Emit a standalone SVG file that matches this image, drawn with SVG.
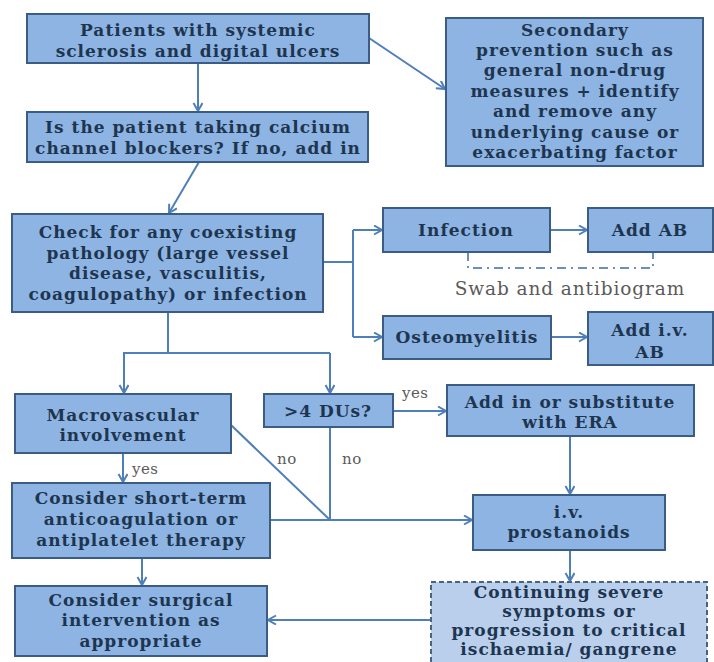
<svg xmlns="http://www.w3.org/2000/svg" width="714" height="662" viewBox="0 0 714 662">
<defs>
<style>
.box{fill:#8DB4E2;stroke:#3A5C85;stroke-width:2}
.dbox{fill:#B9CFEC;stroke:#4A6283;stroke-width:2;stroke-dasharray:5,3}
.t{font-family:"DejaVu Serif","Liberation Serif",serif;font-weight:bold;font-size:17px;letter-spacing:1px;fill:#1E3550;text-anchor:middle}
.lbl{font-family:"DejaVu Serif","Liberation Serif",serif;font-size:15px;letter-spacing:0.5px;fill:#5A5A5A}
.swab{font-family:"DejaVu Serif","Liberation Serif",serif;font-size:18.5px;letter-spacing:0.9px;fill:#5A5A5A;text-anchor:middle}
.c{fill:none;stroke:#4F7FB8;stroke-width:2}
.a{marker-end:url(#ah)}
</style>
<marker id="ah" markerWidth="12" markerHeight="12" refX="9" refY="5" orient="auto" markerUnits="userSpaceOnUse">
<path d="M1,0.5 L9,5 L1,9.5" fill="none" stroke="#4F7FB8" stroke-width="2"/>
</marker>
</defs>
<rect width="714" height="662" fill="#FFFFFF"/>
<g id="connectors">
<line class="c a" x1="198" y1="63" x2="198" y2="111"/>
<line class="c a" x1="369" y1="38" x2="445" y2="89"/>
<line class="c a" x1="199" y1="162" x2="169" y2="213"/>
<polyline class="c" points="323,262 353,262"/>
<line class="c" x1="353" y1="230" x2="353" y2="337"/>
<line class="c a" x1="353" y1="230" x2="382" y2="230"/>
<line class="c a" x1="353" y1="337" x2="382" y2="337"/>
<line class="c a" x1="550" y1="230" x2="587" y2="230"/>
<line class="c a" x1="551" y1="337" x2="587" y2="337"/>
<polyline fill="none" stroke="#6E8FBD" stroke-width="2" stroke-dasharray="9,5,2,5" points="468,252 468,268 653,268 653,252"/>
<line class="c" x1="168" y1="312" x2="168" y2="353"/>
<line class="c" x1="123" y1="353" x2="330" y2="353"/>
<line class="c a" x1="124" y1="353" x2="124" y2="393"/>
<line class="c a" x1="330" y1="353" x2="330" y2="393"/>
<line class="c a" x1="123" y1="453" x2="123" y2="482"/>
<line class="c a" x1="393" y1="411" x2="446" y2="411"/>
<line class="c" x1="231" y1="425" x2="330" y2="520"/>
<line class="c" x1="330" y1="427" x2="330" y2="520"/>
<line class="c a" x1="270" y1="520" x2="472" y2="520"/>
<line class="c a" x1="570" y1="436" x2="570" y2="494"/>
<line class="c a" x1="142" y1="558" x2="142" y2="585"/>
<line class="c a" x1="570" y1="550" x2="570" y2="581"/>
<line class="c a" x1="431" y1="620" x2="268" y2="620"/>
<text class="lbl" x="132" y="474">yes</text>
<text class="lbl" x="402" y="398">yes</text>
<text class="lbl" x="277" y="464">no</text>
<text class="lbl" x="342" y="464">no</text>
<text class="swab" x="570" y="295">Swab and antibiogram</text>
</g>
<g id="n1"><rect class="box" x="27" y="14" width="342" height="49"/>
<text class="t" x="198" y="36">Patients with systemic</text>
<text class="t" x="198" y="57">sclerosis and digital ulcers</text></g>
<g id="n2"><rect class="box" x="27" y="112" width="341" height="50"/>
<text class="t" x="198" y="133">Is the patient taking calcium</text>
<text class="t" x="198" y="154">channel blockers? If no, add in</text></g>
<g id="n3"><rect class="box" x="446" y="18" width="257" height="148"/>
<text class="t" x="575" y="36">Secondary</text>
<text class="t" x="575" y="56">prevention such as</text>
<text class="t" x="575" y="76">general non-drug</text>
<text class="t" x="575" y="97">measures + identify</text>
<text class="t" x="575" y="117">and remove any</text>
<text class="t" x="575" y="138">underlying cause or</text>
<text class="t" x="575" y="158">exacerbating factor</text></g>
<g id="n4"><rect class="box" x="12" y="214" width="311" height="98"/>
<text class="t" x="168" y="238">Check for any coexisting</text>
<text class="t" x="168" y="259">pathology (large vessel</text>
<text class="t" x="168" y="279">disease, vasculitis,</text>
<text class="t" x="168" y="300">coagulopathy) or infection</text></g>
<g id="n5"><rect class="box" x="383" y="208" width="167" height="44"/>
<text class="t" x="466" y="236">Infection</text></g>
<g id="n6"><rect class="box" x="588" y="208" width="125" height="44"/>
<text class="t" x="650" y="236">Add AB</text></g>
<g id="n7"><rect class="box" x="383" y="316" width="168" height="43"/>
<text class="t" x="467" y="343">Osteomyelitis</text></g>
<g id="n8"><rect class="box" x="588" y="312" width="125" height="53"/>
<text class="t" x="650" y="336">Add i.v.</text>
<text class="t" x="650" y="358">AB</text></g>
<g id="n9"><rect class="box" x="15" y="394" width="216" height="59"/>
<text class="t" x="123" y="421">Macrovascular</text>
<text class="t" x="123" y="441">involvement</text></g>
<g id="n10"><rect class="box" x="264" y="394" width="129" height="33"/>
<text class="t" x="328" y="417">&gt;4 DUs?</text></g>
<g id="n11"><rect class="box" x="447" y="385" width="247" height="51"/>
<text class="t" x="570" y="408">Add in or substitute</text>
<text class="t" x="570" y="428">with ERA</text></g>
<g id="n12"><rect class="box" x="12" y="483" width="258" height="75"/>
<text class="t" x="141" y="504">Consider short-term</text>
<text class="t" x="141" y="525">anticoagulation or</text>
<text class="t" x="141" y="546">antiplatelet therapy</text></g>
<g id="n13"><rect class="box" x="473" y="495" width="192" height="55"/>
<text class="t" x="569" y="518">i.v.</text>
<text class="t" x="569" y="538">prostanoids</text></g>
<g id="n14"><rect class="box" x="15" y="586" width="252" height="70"/>
<text class="t" x="141" y="606">Consider surgical</text>
<text class="t" x="141" y="626">intervention as</text>
<text class="t" x="141" y="647">appropriate</text></g>
<g id="n15"><rect class="dbox" x="431" y="582" width="276" height="100"/>
<text class="t" x="569" y="598">Continuing severe</text>
<text class="t" x="569" y="617">symptoms or</text>
<text class="t" x="569" y="636">progression to critical</text>
<text class="t" x="569" y="655">ischaemia/ gangrene</text></g>
</svg>
